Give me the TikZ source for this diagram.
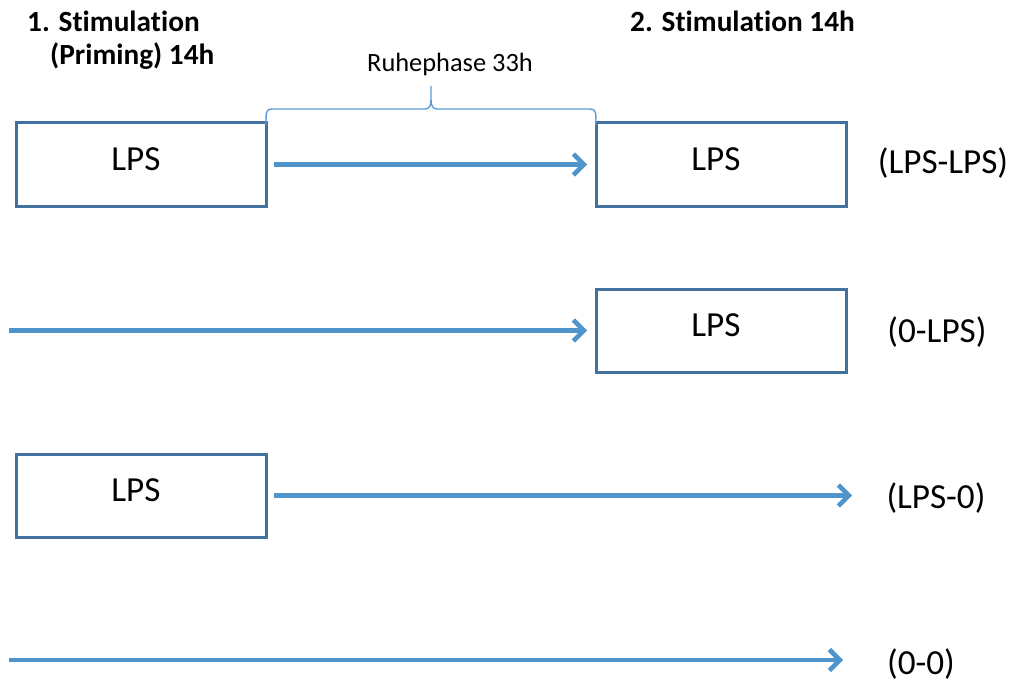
\documentclass[tikz,border=0pt]{standalone}
\usepackage{fontspec}
\setmainfont{Carlito}[Ligatures=NoCommon]
\usetikzlibrary{arrows.meta}
\definecolor{boxblue}{RGB}{65,113,156}
\definecolor{arrblue}{RGB}{80,148,204}
\definecolor{braceblue}{RGB}{91,155,213}
\begin{document}
\begin{tikzpicture}[x=1pt,y=-1pt,
  lpsbox/.style={draw=boxblue, line width=3pt, minimum width=250pt, minimum height=83pt,
    inner sep=0pt, outer sep=0pt, anchor=north west, text height=12pt, text depth=0pt,
    font=\fontsize{35.2pt}{42pt}\selectfont},
  arr/.style={draw=arrblue, line width=4.6pt, -{Straight Barb[length=10.5pt,width=21pt]}},
  grp/.style={anchor=base, font=\fontsize{35.2pt}{42pt}\selectfont, inner sep=0pt},
  head/.style={anchor=base west, font=\fontsize{29.3pt}{35pt}\selectfont\bfseries, inner sep=0pt},
  small/.style={anchor=base, font=\fontsize{26.4pt}{32pt}\selectfont, inner sep=0pt},
  bracestyle/.style={draw=braceblue, line width=1.4pt}]
\useasboundingbox (0,0) rectangle (1014,682);

% headings
\node[head] (h1a) at (27,32) {1. Stimulation};
\node[head] (h1b) at (50,65) {(Priming) 14h};
\node[head] (h2) at (630,32) {2. Stimulation 14h};
\node[small] (rp) at (450,72) {Ruhephase 33h};

% boxes
\node[lpsbox] (b1) at (16,123) {LPS\hspace*{10pt}};
\node[lpsbox] (b2) at (596,123) {LPS\hspace*{10pt}};
\node[lpsbox] (b3) at (596,289) {LPS\hspace*{10pt}};
\node[lpsbox] (b4) at (16,454) {LPS\hspace*{10pt}};

% brace
\draw[bracestyle] (266,125) .. controls (266,112) and (266,109) .. (272,109) -- (425,109)
  .. controls (429,109) and (431,106) .. (431,100) -- (431,86);
\draw[bracestyle] (431,100) .. controls (431,106) and (433,109) .. (437,109) -- (590,109)
  .. controls (596,109) and (596,112) .. (596,125);

% free ends
\coordinate (s2) at (9,330.5);
\coordinate (e3) at (852,495.5);
\coordinate (s4) at (9,660);
\coordinate (e4) at (843,660);

% arrows
\draw[arr] ([xshift=8pt]b1.east) -- ([xshift=-9pt]b2.west);
\draw[arr] (s2) -- ([xshift=-9pt]b3.west);
\draw[arr] ([xshift=8pt]b4.east) -- (e3);
\draw[arr] (s4) -- (e4);

% group labels
\node[grp] (g1) at (943,173) {(LPS-LPS)};
\node[grp] (g2) at (937,342) {(0-LPS)};
\node[grp] (g3) at (936,508) {(LPS-0)};
\node[grp] (g4) at (921,674) {(0-0)};
\end{tikzpicture}
\end{document}
